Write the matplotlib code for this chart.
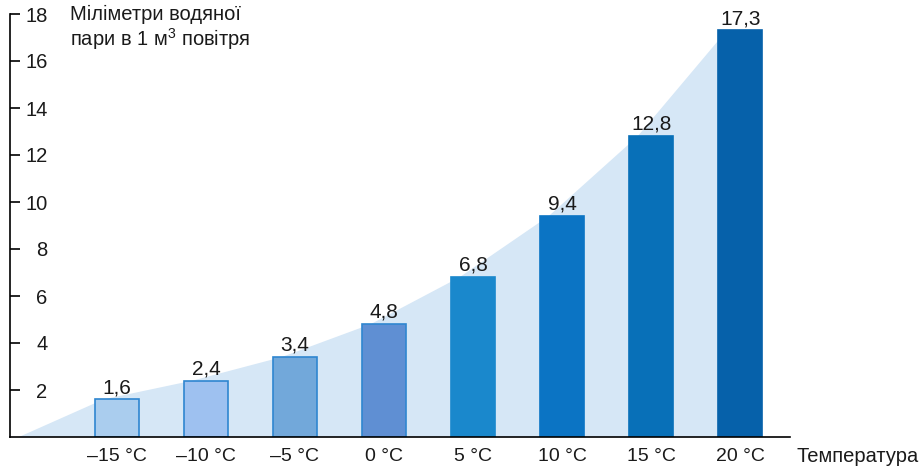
import matplotlib
matplotlib.use("Agg")
import matplotlib.pyplot as plt
import numpy as np

categories = ["–15 °C", "–10 °C", "–5 °C", "0 °C", "5 °C", "10 °C", "15 °C", "20 °C"]
values = [1.6, 2.4, 3.4, 4.8, 6.8, 9.4, 12.8, 17.3]
value_labels = ["1,6", "2,4", "3,4", "4,8", "6,8", "9,4", "12,8", "17,3"]
yticks = [2, 4, 6, 8, 10, 12, 14, 16, 18]
bar_colors = ["#aacdee", "#9ec1f0", "#72a8da", "#5f8fd3",
              "#1a88cc", "#0b74c4", "#0870b8", "#0661aa"]
edge_colors = ["#2f86d0", "#2f86d0", "#2f86d0", "#2f86d0",
               "#1a88cc", "#0b74c4", "#0870b8", "#0661aa"]

plt.rcParams['font.family'] = ['Liberation Sans', 'DejaVu Sans']
plt.rcParams['mathtext.fontset'] = 'custom'
plt.rcParams['mathtext.rm'] = 'Liberation Sans'
plt.rcParams['mathtext.it'] = 'Liberation Sans'
plt.rcParams['mathtext.default'] = 'regular'

fig = plt.figure(figsize=(9.2, 4.68), dpi=100)
ax = fig.add_axes([10/920, 31/468, 780/920, 423/468])

x = np.arange(len(categories))

# background area
fx = np.concatenate([[-1.1], x - 0.15, [x[-1]], [x[-1]]])
fy = np.concatenate([[0], values, [values[-1]], [0]])
ax.fill(fx, fy, color="#d6e7f6", lw=0, zorder=1)

ax.bar(x, values, width=0.5, color=bar_colors, edgecolor=edge_colors,
       linewidth=1.2, zorder=2)

for xi, v, lab in zip(x, values, value_labels):
    ax.text(xi, v + 0.1, lab, ha="center", va="bottom", fontsize=15,
            color="#1a1a1a", zorder=3)

ax.set_xlim(-1.2, 7.56)
ax.set_ylim(0, 18)

for s in ["top", "right"]:
    ax.spines[s].set_visible(False)
ax.spines["left"].set_linewidth(1.2)
ax.spines["bottom"].set_linewidth(1.2)

ax.set_yticks(yticks)
ax.set_yticklabels([str(t) for t in yticks], fontsize=14.5, color="#1a1a1a")
ax.tick_params(axis="y", direction="in", length=7, width=1.2, pad=-27)
for lab in ax.get_yticklabels():
    lab.set_horizontalalignment("right")

ax.set_xticks(x)
ax.set_xticklabels(categories, fontsize=14, color="#1a1a1a")
ax.tick_params(axis="x", length=0, pad=8)

ax.text(1.008, -0.045, "Температура", transform=ax.transAxes, ha="left",
        va="center", fontsize=14.5, color="#1a1a1a")

fig.text(70/920, 1 - 5/468, "Міліметри водяної\nпари в 1 м$^3$ повітря",
         ha="left", va="top", fontsize=14.5, color="#1a1a1a", linespacing=1.1)

fig.savefig("out.png", dpi=100)
